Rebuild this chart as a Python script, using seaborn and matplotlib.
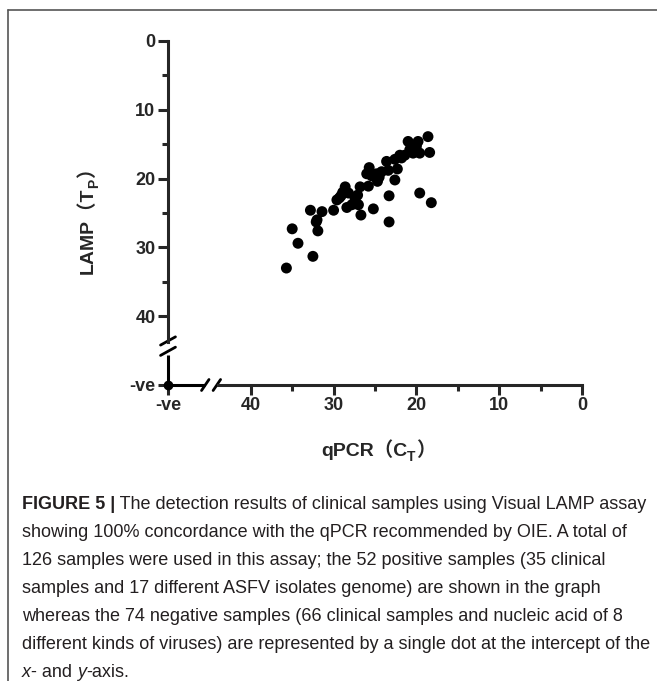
import numpy as np
import pandas as pd
import seaborn as sns
import matplotlib.pyplot as plt
from matplotlib.lines import Line2D

# qPCR Ct vs LAMP Tp for the 52 positive samples
qpcr_ct = [35.7, 35.0, 34.3, 32.5, 32.8, 32.1, 31.9, 31.4, 30.0, 29.6, 29.1, 28.6, 28.2,
           28.4, 27.8, 27.1, 27.0, 26.7, 26.8, 25.8, 25.7, 26.0, 25.2, 24.7, 24.8, 24.2,
           23.6, 23.4, 23.3, 23.3, 22.6, 22.3, 22.6, 22.0, 21.4, 21.0, 20.4, 19.8, 19.6,
           18.6, 18.4, 19.6, 18.2, 20.0, 32.0, 29.3, 28.9, 27.4, 25.4, 24.5, 21.8, 20.8]
lamp_tp = [33.0, 27.3, 29.4, 31.3, 24.6, 26.3, 27.6, 24.8, 24.6, 23.1, 22.5, 21.2, 22.1,
           24.2, 23.8, 22.4, 23.8, 25.3, 21.2, 21.1, 18.4, 19.3, 24.4, 20.4, 19.3, 19.0,
           17.5, 18.8, 22.5, 26.3, 20.2, 18.6, 17.2, 16.6, 16.6, 14.6, 16.3, 14.6, 16.3,
           13.9, 16.2, 22.1, 23.5, 15.3, 26.0, 22.8, 22.0, 22.9, 19.6, 19.8, 17.0, 15.8]

# negatives sit on a "-ve" position beyond the break
neg_pos = 50
x_ticks = [0, 10, 20, 30, 40, neg_pos]
y_ticks = [0, 10, 20, 30, 40, neg_pos]
tick_labels = ['0', '10', '20', '30', '40', '-ve']
minor_ticks = [5, 15, 25, 35]

caption = [
    "showing 100% concordance with the qPCR recommended by OIE. A total of",
    "126 samples were used in this assay; the 52 positive samples (35 clinical",
    "samples and 17 different ASFV isolates genome) are shown in the graph",
    "whereas the 74 negative samples (66 clinical samples and nucleic acid of 8",
    "different kinds of viruses) are represented by a single dot at the intercept of the",
]

df = pd.DataFrame({'qpcr': qpcr_ct, 'lamp': lamp_tp})

sns.set_style('white')
fams = ['Liberation Sans', 'Noto Sans CJK SC']
plt.rcParams['font.family'] = fams

W, H = 657, 681
fig = plt.figure(figsize=(6.57, 6.81), dpi=100)
ax = fig.add_axes([168/W, 1-385/H, 414/W, 344/H])

sns.scatterplot(data=df, x='qpcr', y='lamp', color='black', s=62, edgecolor='none', ax=ax)
ax.scatter([neg_pos], [neg_pos], color='black', s=36, zorder=5, clip_on=False)

ax.set_xlim(neg_pos, 0)
ax.set_ylim(neg_pos, 0)

for s in ['top', 'right']:
    ax.spines[s].set_visible(False)
lw = 2.2
ax.spines['left'].set_linewidth(lw)
ax.spines['bottom'].set_linewidth(lw)
ax.spines['left'].set_bounds(0, 43.7)
ax.spines['bottom'].set_bounds(0, 44.0)
# remaining stubs between break and -ve
ax.plot([neg_pos, neg_pos], [45.6, neg_pos], color='black', lw=lw, clip_on=False, solid_capstyle='butt')
ax.plot([neg_pos, 45.5], [neg_pos, neg_pos], color='black', lw=lw, clip_on=False, solid_capstyle='butt')
# break marks
for yc in [43.6, 45.1]:
    ax.plot([neg_pos + 0.9, neg_pos - 0.9], [yc + 0.6, yc - 0.6], color='black', lw=2, clip_on=False)
for xc in [45.5, 44.1]:
    ax.plot([xc + 0.45, xc - 0.45], [neg_pos + 0.8, neg_pos - 0.8], color='black', lw=2, clip_on=False)

ax.set_xticks(x_ticks)
ax.set_xticklabels(tick_labels)
ax.set_yticks(y_ticks)
ax.set_yticklabels(tick_labels)
ax.set_xticks(minor_ticks, minor=True)
ax.set_yticks(minor_ticks, minor=True)
ax.tick_params(which='major', direction='out', length=7, width=lw, labelsize=13, pad=2,
               bottom=True, left=True)
ax.tick_params(which='minor', direction='out', length=4.5, width=lw, bottom=True, left=True)
for lab in ax.get_xticklabels() + ax.get_yticklabels():
    lab.set_fontweight('bold')
ax.set_xlabel('')
ax.set_ylabel('')

# axis titles built from pieces so the subscript sits right
lfs, sfs = 14, 10
xa = fig.text(321/W, 1-456/H, 'qPCR（C', family=fams, weight='bold', fontsize=lfs,
              ha='left', va='baseline')
xb = ax.annotate('T', xy=(1, 1-461/H), xycoords=(xa, 'figure fraction'), family=fams,
                 weight='bold', fontsize=sfs, ha='left', va='baseline', annotation_clip=False)
ax.annotate('）', xy=(1, 1-456/H), xycoords=(xb, 'figure fraction'), family=fams,
            weight='bold', fontsize=lfs, ha='left', va='baseline', annotation_clip=False)

ya = fig.text(93/W, 1-274/H, 'LAMP（T', family=fams, weight='bold', fontsize=lfs,
              rotation=90, rotation_mode='anchor', ha='left', va='baseline')
yb = ax.annotate('P', xy=(98/W, 1), xycoords=('figure fraction', ya), family=fams,
                 weight='bold', fontsize=sfs, rotation=90, rotation_mode='anchor',
                 ha='left', va='baseline', annotation_clip=False)
ax.annotate('）', xy=(93/W, 1), xycoords=('figure fraction', yb), family=fams,
            weight='bold', fontsize=lfs, rotation=90, rotation_mode='anchor',
            ha='left', va='baseline', annotation_clip=False)

# frame (top and left only)
fig.add_artist(Line2D([8/W, 8/W], [0, 1-10/H], color='#555555', lw=1.2))
fig.add_artist(Line2D([8/W, 1], [1-10/H, 1-10/H], color='#555555', lw=1.2))

# caption
cap_font = 'Liberation Sans'
cfs = 13
x0 = 22/W
y_first = 513
step = 28
t1 = fig.text(x0, 1-y_first/H, 'FIGURE 5 |', family=cap_font, weight='bold', fontsize=cfs,
              color='#231f20', va='bottom')
ax.annotate(' The detection results of clinical samples using Visual LAMP assay', xy=(1, 0),
            xycoords=t1, va='bottom', ha='left', family=cap_font, fontsize=cfs,
            color='#231f20', annotation_clip=False)
for i, line in enumerate(caption):
    fig.text(x0, 1-(y_first+step*(i+1))/H, line, family=cap_font, fontsize=cfs,
             color='#231f20', va='bottom')
ylast = 1-(y_first+step*6)/H
p1 = fig.text(x0, ylast, 'x', family=cap_font, style='italic', fontsize=cfs, color='#231f20', va='bottom')
p2 = ax.annotate('- and ', xy=(1, 0), xycoords=p1, va='bottom', family=cap_font, fontsize=cfs,
                 color='#231f20', annotation_clip=False)
p3 = ax.annotate('y', xy=(1, 0), xycoords=p2, va='bottom', family=cap_font, style='italic',
                 fontsize=cfs, color='#231f20', annotation_clip=False)
ax.annotate('-axis.', xy=(1, 0), xycoords=p3, va='bottom', family=cap_font, fontsize=cfs,
            color='#231f20', annotation_clip=False)

fig.savefig('out.png', dpi=100)
